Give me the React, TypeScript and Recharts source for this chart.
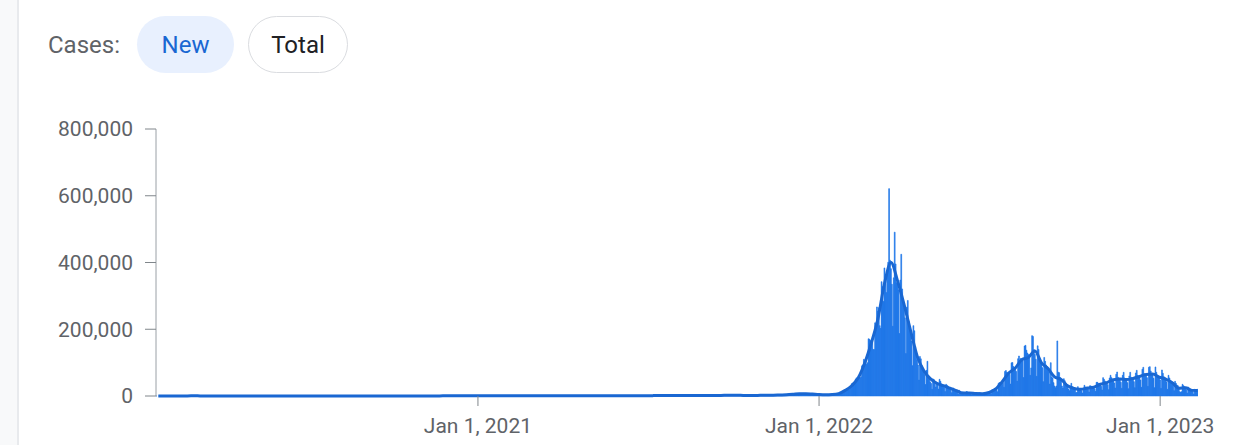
import { Bar, ComposedChart, Line, XAxis, YAxis } from 'recharts';

const START = Date.UTC(2020, 0, 23);
const DAY = 86400000;

// daily new cases, starting Jan 23, 2020
const cases2020 = [
  1, 0, 0, 1, 1, 0, 0, 2, 5,
  1, 3, 0, 1, 3, 0, 1, 0, 3, 0, 1, 0, 0, 0, 0, 1, 1, 1, 15, 34, 75, 190, 256, 161, 130, 253, 449, 427, 909,
  595, 686, 600, 516, 438, 518, 483, 367, 248, 131, 242, 114, 110, 107, 76, 74, 84, 93, 152, 87, 147, 98, 64, 76, 100, 104, 91, 146, 105, 78, 125,
  101, 89, 86, 94, 81, 47, 47, 53, 39, 27, 30, 32, 25, 27, 27, 22, 22, 18, 8, 13, 9, 11, 8, 6, 10, 10, 10, 14, 9, 4,
  9, 6, 13, 8, 3, 2, 4, 12, 18, 34, 35, 27, 26, 29, 27, 19, 13, 15, 13, 32, 12, 20, 23, 25, 16, 19, 40, 79, 58, 39, 27,
  35, 38, 49, 39, 39, 51, 57, 38, 38, 50, 45, 56, 48, 49, 37, 34, 43, 59, 49, 67, 48, 17, 46, 51, 28, 39, 51, 62, 42, 43,
  51, 54, 63, 63, 61, 48, 44, 62, 50, 45, 35, 44, 62, 33, 39, 61, 60, 39, 34, 26, 45, 63, 59, 41, 113, 58, 25, 28, 48, 18, 36,
  31, 30, 23, 34, 33, 43, 20, 36, 28, 34, 54, 56, 103, 166, 279, 197, 246, 297, 288, 324, 332, 397, 266, 280, 320, 441, 371, 323, 299, 248, 235,
  267, 195, 198, 168, 167, 119, 136, 156, 155, 176, 136, 121, 109, 106, 113, 153, 145, 110, 126, 82, 70, 61, 110, 125, 114, 61, 95, 50, 38, 113,
  77, 63, 75, 64, 73, 75, 114, 69, 54, 72, 58, 97, 102, 84, 110, 47, 73, 91, 76, 58, 89, 121, 155, 77, 61, 119, 88, 103, 125, 114, 127,
  124, 97, 75, 118, 125, 145, 89, 143, 126, 100, 146, 143, 191, 205, 208, 223, 230, 313, 343, 363, 386, 330, 271, 349, 382, 583, 569, 504, 450, 438,
  451, 511, 540, 629, 583, 631, 615, 594, 686, 682, 689, 950, 1030, 718, 880, 1078, 1014, 1064, 1097, 1097, 926, 869, 1090, 985, 1241, 1132, 970, 808, 1046, 1050, 967,
];

const cases2021 = [
  1029, 820, 657, 1020, 715, 838, 869, 674, 641, 451, 537, 580, 520, 524, 513, 580, 520, 389, 386, 404, 401, 346, 431, 392, 437, 349, 559, 497, 469, 458, 355,
  305, 336, 467, 451, 370, 393, 372, 289, 303, 444, 504, 403, 362, 326, 344, 457, 621, 561, 561, 448, 416, 332, 356, 440, 396, 406, 415, 356,
  355, 344, 424, 398, 424, 416, 446, 346, 469, 444, 465, 488, 488, 382, 363, 382, 469, 445, 463, 452, 456, 415, 346, 428, 430, 494, 505, 482, 384, 447, 506,
  551, 557, 543, 543, 473, 478, 668, 700, 671, 614, 587, 542, 731, 698, 673, 658, 672, 532, 549, 731, 735, 797, 785, 644, 499, 512, 769, 775, 679, 661,
  627, 488, 541, 676, 574, 525, 701, 564, 463, 511, 635, 715, 747, 681, 610, 619, 528, 654, 646, 561, 666, 585, 530, 707, 516, 629, 587, 533, 480, 430, 459,
  677, 681, 695, 744, 556, 485, 454, 602, 611, 556, 565, 452, 399, 373, 545, 540, 507, 482, 429, 357, 395, 645, 610, 634, 668, 614, 501, 595, 794, 761,
  826, 794, 743, 711, 746, 1212, 1275, 1316, 1378, 1324, 1100, 1150, 1615, 1600, 1536, 1455, 1454, 1252, 1278, 1784, 1842, 1630, 1629, 1487, 1318, 1363, 1896, 1674, 1710, 1539, 1442,
  1218, 1202, 1725, 1776, 1704, 1823, 1729, 1492, 1537, 2223, 1987, 1990, 1928, 1817, 1556, 1372, 1805, 2152, 2050, 1880, 1629, 1418, 1507, 2155, 1882, 1841, 1791, 1619, 1487, 1372, 2025,
  2049, 1961, 1709, 1804, 1490, 1375, 2050, 2049, 2049, 1892, 1755, 1433, 1497, 2080, 2057, 2008, 2087, 1909, 1604, 1729, 1720, 1716, 2431, 2434, 3270, 2771, 2383, 2289, 2885, 2564,
  2486, 2085, 2086, 1673, 1575, 2028, 2427, 2175, 1953, 1594, 1297, 1347, 1584, 1940, 1684, 1618, 1420, 1050, 1073, 1571, 1440, 1441, 1508, 1423, 1266, 1266, 1952, 2111, 2124, 2104, 2061,
  1686, 1589, 2667, 2482, 2344, 2248, 2224, 1758, 1715, 2425, 2520, 2368, 2324, 2419, 2006, 2125, 3187, 3292, 3034, 3206, 3120, 2827, 2699, 4115, 4068, 3901, 3310, 3925, 3308, 3032,
  5123, 5266, 4944, 5352, 5128, 4325, 4954, 7175, 7102, 7022, 6977, 6689, 5817, 5567, 7850, 7622, 7435, 7314, 6236, 5318, 5202, 7456, 6919, 6233, 5842, 5419, 4207, 3865, 5409, 5037, 4875,
];

const cases2022 = [
  4415, 3833, 3129, 4207, 4444, 4126, 3714, 3511, 3376, 3005, 4388, 4542, 4167, 4172, 4542, 4194, 3857, 5805, 5287, 6603, 6769, 7009, 7630, 8570, 8571, 13012, 14518, 16096, 17542, 17528, 18342,
  20270, 18342, 22907, 27443, 36362, 38691, 35286, 36719, 49567, 54122, 53926, 54941, 56431, 54619, 57177, 90443, 93135, 109831, 102211, 104829, 95362, 99573, 171452, 170016, 165890, 166207, 163566, 139626,
  138993, 219241, 198803, 266853, 254327, 264619, 210716, 202721, 342446, 327549, 282987, 383665, 350190, 309790, 362338, 400741, 621328, 407017, 381454, 334708, 209169, 353980, 490881, 395598, 339514, 335580, 318130, 187213, 347554, 424641, 320743,
  280273, 264171, 234301, 127190, 266135, 286294, 224820, 205333, 185566, 164481, 90928, 210755, 195419, 148443, 125846, 107916, 93001, 47743, 118504, 111319, 90867, 81058, 75449, 64725, 34370, 76787, 104000, 57464, 50568, 42296,
  37771, 20084, 51131, 49064, 42296, 26714, 40064, 37766, 20601, 49933, 43925, 35906, 32451, 29581, 25434, 13296, 35117, 32385, 29935, 25125, 23956, 20325, 9975, 23518, 23956, 18816, 16584, 14410, 12653, 6141, 17188,
  13358, 7000, 9000, 12050, 9315, 5022, 6171, 13358, 12160, 10000, 9000, 7000, 3828, 7995, 10000, 9000, 8000, 7000, 6000, 3000, 9000, 10000, 8000, 7000, 6000, 5000, 3400, 9900, 9500, 9600,
  10700, 10400, 9000, 6254, 18147, 19371, 18500, 19300, 20300, 20400, 12693, 37360, 40266, 39196, 38882, 41310, 40342, 26299, 73582, 76402, 71170, 68632, 65433, 65064, 35883, 99327, 100285, 88384, 85320, 81987, 73589,
  44689, 111789, 119922, 107894, 112901, 110666, 105507, 55292, 149897, 151792, 137241, 128714, 124592, 119603, 62078, 84128, 180803, 178574, 138812, 125000, 110000, 59046, 150267, 139339, 113371, 103961, 96000, 85000, 43000, 115615, 103961,
  93000, 88000, 81000, 73000, 36000, 99837, 57000, 54000, 40000, 30000, 25000, 30000, 165000, 71444, 70000, 55000, 46000, 30000, 24000, 51862, 46000, 39000, 32000, 29000, 21000, 16000, 30000, 38000, 28000, 27000,
  24000, 20000, 10000, 11000, 28000, 22000, 21000, 20000, 16000, 9000, 23000, 32000, 27000, 24000, 22000, 20000, 12000, 31000, 30000, 28000, 26000, 25000, 21000, 14000, 41000, 41000, 37000, 34000, 33000, 29000, 18000,
  55000, 50000, 45000, 41000, 39000, 34000, 19000, 54000, 62000, 55000, 50000, 46000, 39000, 24000, 65000, 72000, 56000, 52000, 48000, 41000, 23000, 62000, 71000, 54000, 51000, 47000, 40000, 22000, 60000, 71000,
  56000, 53000, 51000, 43000, 25000, 69000, 77000, 62000, 60000, 55000, 48000, 26000, 80000, 86000, 67000, 66000, 63000, 55000, 29000, 86000, 88000, 75000, 68000, 63000, 53000, 25000, 87000, 71000, 62000, 59000, 55000,
];

const cases2023 = [
  48000, 23000, 78000, 68000, 58000, 55000, 50000, 42000, 20000, 62000, 54000, 47000, 44000, 39000, 32000, 16000, 44000, 38000, 33000, 31000, 26000, 13000, 11000, 13000, 35000, 31000, 28000, 23000, 19000, 9000, 27000,
  24000, 21000, 18000, 16000, 13000, 6000, 20000, 18000, 15000, 20000,
];

// 7-day average, one value per week
const weeklyAvg = [
  0, 2, 1, 0, 123, 560, 386, 115, 102, 107, 78, 33, 17, 9, 7, 18, 20, 21, 45, 44, 44, 48, 45, 55, 47, 44, 55, 31, 36, 192,
  314, 316, 163, 131, 109, 85, 80, 77, 76, 98, 110, 121, 200, 330, 480, 590, 800, 1010, 1040, 900,
  700, 510, 400, 430, 380, 420, 480, 380, 420, 430, 440, 450, 510, 650, 650, 680, 610, 580, 650, 600,
  560, 600, 500, 480, 630, 820, 1280, 1520, 1600, 1560, 1700, 1750, 1800, 1700, 1800, 1830, 1830, 2560, 2240, 1950,
  1500, 1400, 1900, 2200, 2300, 3000, 3660, 5000, 6700, 6830, 5700, 4415,
  3795, 4468, 7206, 16758, 30821, 54398, 99341, 159393, 231040, 336995, 400000, 344924, 273922, 195454, 119553, 76368, 51902, 38063,
  30816, 23603, 15678, 8845, 9049, 7429, 7043, 10514, 21132, 42840, 68844, 83720, 108868, 115450, 134643, 99469, 82114, 57286, 49758, 30429,
  22571, 19857, 24000, 26429, 35286, 40286, 48714, 50571, 49286, 52571, 58286, 64571, 65571, 56571, 50714, 39429, 23571, 24571, 16857, 16500,
];

const yTicks = [0, 200000, 400000, 600000, 800000];
const xTickDates = ['2021-01-01', '2022-01-01', '2023-01-01'];
const xTickLabels = ['Jan 1, 2021', 'Jan 1, 2022', 'Jan 1, 2023'];

const daily = [...cases2020, ...cases2021, ...cases2022, ...cases2023].map((cases, day) => ({ day, cases }));
const lastDay = daily.length - 1;
const avgData = weeklyAvg.map((avg, k) => ({ day: Math.min(7 * k + 2, lastDay), avg }));
const xTicks = xTickDates.map((d) => Math.round((Date.parse(d) - START) / DAY));

const pill: React.CSSProperties = {
  position: 'absolute',
  top: 16,
  height: 57,
  boxSizing: 'border-box',
  borderRadius: 29,
  display: 'flex',
  alignItems: 'center',
  justifyContent: 'center',
  fontSize: 24,
};

export default function App() {
  return (
    <div style={{ position: 'relative', width: 1259, height: 445, background: '#fff', fontFamily: 'Roboto, Arial, sans-serif', overflow: 'hidden' }}>
      <style>{'body{margin:0}'}</style>
      <div style={{ position: 'absolute', left: 0, top: 0, width: 17, height: 445, background: '#f8f9fa', borderRight: '2px solid #e8eaed' }} />
      <div style={{ position: 'absolute', left: 48, top: 16, height: 57, display: 'flex', alignItems: 'center', fontSize: 24, color: '#5f6368' }}>
        Cases:
      </div>
      <div style={{ ...pill, left: 137, width: 97, background: '#e8f0fe', color: '#1967d2' }}>New</div>
      <div style={{ ...pill, left: 248, width: 100, background: '#fff', border: '1px solid #dadce0', color: '#202124' }}>Total</div>

      <div style={{ position: 'absolute', left: 0, top: 0 }}>
        <ComposedChart width={1259} height={445} data={daily} margin={{ top: 129, right: 61, bottom: 0, left: 56 }}>
          <XAxis
            type="number"
            dataKey="day"
            domain={[-0.5, lastDay + 0.5]}
            ticks={xTicks}
            interval={0}
            tickFormatter={(v: number) => xTickLabels[xTicks.indexOf(v)]}
            axisLine={false}
            tickSize={10}
            tickMargin={12}
            height={49}
            tick={{ fontSize: 21, fill: '#5f6368' }}
            tickLine={{ stroke: '#80868b' }}
            allowDataOverflow
          />
          <YAxis
            type="number"
            domain={[0, 800000]}
            ticks={yTicks}
            interval={0}
            tickFormatter={(v: number) => v.toLocaleString('en-US')}
            width={100}
            tickSize={11}
            tickMargin={12}
            axisLine={{ stroke: '#9aa0a6' }}
            tickLine={{ stroke: '#80868b' }}
            tick={{ fontSize: 21, fill: '#5f6368' }}
          />
          <Bar dataKey="cases" fill="#1a73e8" stroke="#1a73e8" strokeWidth={0.6} barSize={2} isAnimationActive={false} />
          <Line data={avgData} dataKey="avg" type="monotone" stroke="#1967d2" strokeWidth={3} dot={false} isAnimationActive={false} />
        </ComposedChart>
      </div>
    </div>
  );
}
